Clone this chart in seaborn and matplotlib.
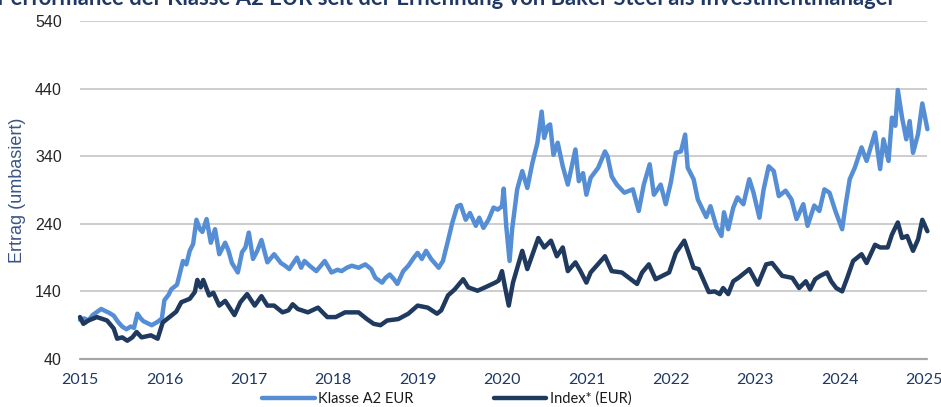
import matplotlib
matplotlib.use("Agg")
import matplotlib.pyplot as plt
import seaborn as sns
import pandas as pd
from matplotlib.lines import Line2D

# ---------------- data ----------------
klasse_x = [2015.00, 2015.05, 2015.10, 2015.15, 2015.25, 2015.30, 2015.35, 2015.40, 2015.45, 2015.50,
            2015.55, 2015.60, 2015.64, 2015.68, 2015.72, 2015.75, 2015.80, 2015.85, 2015.92, 2015.97,
            2016.00, 2016.05, 2016.08, 2016.15, 2016.22, 2016.26, 2016.30, 2016.34, 2016.38, 2016.42,
            2016.45, 2016.50, 2016.55, 2016.60, 2016.65, 2016.72, 2016.76, 2016.80, 2016.87, 2016.92,
            2016.96, 2017.00, 2017.05, 2017.10, 2017.15, 2017.22, 2017.30, 2017.38, 2017.43, 2017.48,
            2017.57, 2017.62, 2017.66, 2017.72, 2017.80, 2017.90, 2017.98, 2018.05, 2018.10, 2018.16,
            2018.22, 2018.30, 2018.38, 2018.45, 2018.50, 2018.58, 2018.62, 2018.67, 2018.72, 2018.76,
            2018.83, 2018.89, 2018.95, 2019.00, 2019.05, 2019.10, 2019.16, 2019.25, 2019.30, 2019.36,
            2019.41, 2019.47, 2019.51, 2019.57, 2019.62, 2019.69, 2019.73, 2019.78, 2019.84, 2019.90,
            2019.95, 2020.00, 2020.02, 2020.05, 2020.09, 2020.12, 2020.18, 2020.24, 2020.30, 2020.36,
            2020.42, 2020.47, 2020.50, 2020.54, 2020.57, 2020.61, 2020.66, 2020.72, 2020.78, 2020.87,
            2020.91, 2020.96, 2021.00, 2021.05, 2021.14, 2021.22, 2021.25, 2021.30, 2021.36, 2021.45,
            2021.55, 2021.62, 2021.68, 2021.75, 2021.80, 2021.88, 2021.94, 2022.00, 2022.06, 2022.12,
            2022.17, 2022.20, 2022.27, 2022.32, 2022.42, 2022.47, 2022.54, 2022.60, 2022.63, 2022.68,
            2022.74, 2022.79, 2022.86, 2022.93, 2022.98, 2023.05, 2023.10, 2023.16, 2023.22, 2023.28,
            2023.36, 2023.43, 2023.49, 2023.57, 2023.62, 2023.70, 2023.76, 2023.82, 2023.88, 2023.95,
            2024.03, 2024.07, 2024.12, 2024.18, 2024.26, 2024.32, 2024.42, 2024.48, 2024.52, 2024.58,
            2024.62, 2024.66, 2024.69, 2024.74, 2024.79, 2024.83, 2024.87, 2024.93, 2024.98, 2025.04]
klasse_y = [98, 100, 97, 105, 114, 111, 108, 104, 95, 88,
            84, 88, 86, 107, 100, 96, 93, 90, 95, 100,
            127, 135, 143, 150, 185, 180, 200, 210, 246, 232,
            228, 247, 212, 232, 195, 212, 200, 182, 168, 198,
            205, 227, 188, 200, 216, 183, 195, 182, 178, 173,
            190, 175, 185, 178, 170, 185, 168, 172, 170, 175,
            178, 175, 180, 173, 160, 153, 160, 165, 158, 151,
            170, 178, 189, 197, 188, 200, 188, 175, 185, 215,
            241, 266, 268, 246, 256, 237, 249, 234, 246, 264,
            261, 266, 292, 237, 185, 232, 291, 318, 293, 330,
            360, 406, 367, 384, 387, 342, 360, 325, 298, 350,
            303, 315, 283, 308, 323, 347, 340, 310, 298, 286,
            291, 259, 298, 328, 283, 298, 269, 301, 345, 347,
            372, 323, 306, 276, 250, 266, 236, 222, 257, 232,
            264, 279, 269, 306, 286, 249, 291, 325, 318, 281,
            289, 276, 247, 269, 237, 267, 259, 291, 286, 259,
            232, 267, 306, 323, 353, 333, 375, 321, 365, 333,
            397, 385, 438, 397, 365, 392, 345, 373, 418, 380]

index_x = [2015.00, 2015.04, 2015.10, 2015.20, 2015.27, 2015.32, 2015.40, 2015.44, 2015.50, 2015.56,
           2015.62, 2015.67, 2015.73, 2015.84, 2015.92, 2015.98, 2016.08, 2016.14, 2016.20, 2016.30,
           2016.36, 2016.39, 2016.43, 2016.46, 2016.53, 2016.58, 2016.65, 2016.72, 2016.83, 2016.90,
           2016.98, 2017.07, 2017.15, 2017.22, 2017.30, 2017.40, 2017.47, 2017.52, 2017.58, 2017.70,
           2017.82, 2017.93, 2018.03, 2018.14, 2018.30, 2018.40, 2018.48, 2018.56, 2018.64, 2018.77,
           2018.89, 2019.00, 2019.12, 2019.23, 2019.28, 2019.36, 2019.44, 2019.54, 2019.60, 2019.71,
           2019.80, 2019.92, 2019.96, 2020.00, 2020.03, 2020.08, 2020.13, 2020.24, 2020.30, 2020.43,
           2020.50, 2020.58, 2020.65, 2020.72, 2020.78, 2020.87, 2020.93, 2021.00, 2021.05, 2021.22,
           2021.30, 2021.42, 2021.60, 2021.66, 2021.74, 2021.82, 2021.98, 2022.06, 2022.16, 2022.27,
           2022.33, 2022.45, 2022.52, 2022.58, 2022.62, 2022.68, 2022.74, 2022.80, 2022.93, 2023.03,
           2023.13, 2023.20, 2023.32, 2023.44, 2023.52, 2023.60, 2023.65, 2023.71, 2023.77, 2023.85,
           2023.90, 2023.96, 2024.03, 2024.09, 2024.16, 2024.26, 2024.32, 2024.42, 2024.48, 2024.57,
           2024.62, 2024.69, 2024.74, 2024.80, 2024.87, 2024.93, 2024.98, 2025.04]
index_y = [102, 92, 97, 102, 99, 97, 85, 70, 72, 67,
           72, 80, 72, 75, 70, 94, 104, 110, 124, 129,
           139, 157, 146, 157, 134, 138, 119, 126, 105, 124,
           136, 119, 133, 119, 119, 109, 112, 121, 114, 109,
           116, 102, 102, 109, 109, 99, 92, 90, 97, 99,
           107, 119, 116, 107, 112, 134, 143, 158, 146, 141,
           146, 153, 156, 170, 150, 119, 153, 200, 173, 219,
           205, 215, 192, 205, 170, 183, 170, 153, 168, 192,
           170, 168, 151, 168, 180, 158, 168, 197, 215, 175,
           173, 139, 140, 136, 145, 136, 155, 160, 173, 150,
           180, 182, 163, 160, 145, 155, 143, 158, 163, 168,
           155, 145, 140, 160, 185, 195, 182, 209, 205, 205,
           224, 242, 219, 222, 200, 217, 246, 229]

series_names = ["Klasse A2 EUR", "Index* (EUR)"]
y_ticks = [40, 140, 240, 340, 440, 540]
x_ticks = list(range(2015, 2026))

title_text = "Performance der Klasse A2 EUR seit der Ernennung von Baker Steel als Investmentmanager"
y_label = "Ertrag (umbasiert)"

# ---------------- plot ----------------
sns.set_theme(style="white")
plt.rcParams["font.family"] = ["Liberation Sans", "DejaVu Sans"]

blue = "#558ED5"
navy = "#1F3A5E"

df_k = pd.DataFrame({"Jahr": klasse_x, "Wert": klasse_y})
df_i = pd.DataFrame({"Jahr": index_x, "Wert": index_y})

fig = plt.figure(figsize=(9.41, 4.07), dpi=100)
ax = fig.add_axes([80 / 941, 1 - 359 / 407, 847 / 941, (359 - 21) / 407])

sns.lineplot(data=df_k, x="Jahr", y="Wert", ax=ax, color=blue, lw=3.2,
             estimator=None, sort=False, clip_on=False, zorder=3)
sns.lineplot(data=df_i, x="Jahr", y="Wert", ax=ax, color=navy, lw=3.2,
             estimator=None, sort=False, clip_on=False, zorder=4)

ax.set_xlim(2015, 2015 + 847 / 84.4)
ax.set_ylim(40, 540)
ax.set_yticks(y_ticks)
ax.set_xticks(x_ticks)
ax.set_xticklabels([str(t) for t in x_ticks])
for g in y_ticks[1:]:
    ax.axhline(g, color="#C9C9C9", lw=1.3, zorder=1)
ax.axhline(40, color="#A6A6A6", lw=1.6, zorder=2, clip_on=False)

for s in ax.spines.values():
    s.set_visible(False)
ax.tick_params(axis="y", length=0, pad=13, labelsize=11.5, labelcolor="#262626")
ax.tick_params(axis="x", length=0, pad=10, labelsize=11.5, labelcolor="#1F3864")
for lbl in ax.get_xticklabels():
    lbl.set_family(["Lato", "DejaVu Sans"])
ax.set_xlabel("")
ax.set_ylabel(y_label, fontsize=13, color="#3A5686")
ax.yaxis.set_label_coords(-54 / 847, 0.5)

fig.text(446 / 941, 1 - 5 / 407, title_text, ha="center", va="baseline",
         fontsize=15.8, fontweight="bold", color="#1F3864",
         family=["Lato", "DejaVu Sans"])

handles = [Line2D([], [], color=blue, lw=3.2), Line2D([], [], color=navy, lw=3.2)]
leg = fig.legend(handles, series_names, loc="center", bbox_to_anchor=(447 / 941, 1 - 399 / 407),
                 ncol=2, frameon=False, handlelength=3.6, handletextpad=0.25,
                 columnspacing=5.5, prop={"family": ["Lato", "DejaVu Sans"], "size": 10.5})
for t in leg.get_texts():
    t.set_color("#1A1A1A")

fig.savefig("out.png", dpi=100)
